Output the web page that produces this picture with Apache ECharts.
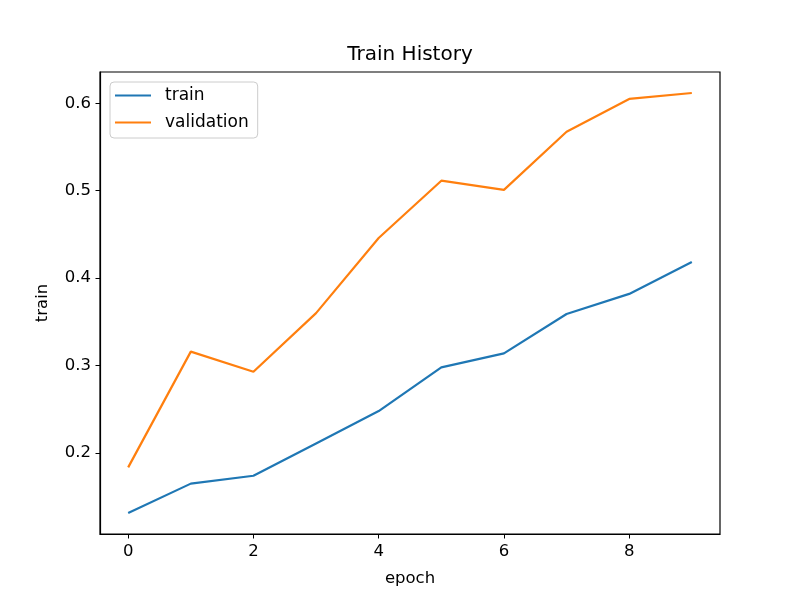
<!DOCTYPE html>
<html>
<head>
<meta charset="utf-8">
<script src="https://cdn.jsdelivr.net/npm/echarts@6/dist/echarts.min.js"></script>
<style>html,body{margin:0;padding:0;background:#fff}#c{width:800px;height:600px}</style>
</head>
<body>
<div id="c"></div>
<script>
const epochs = [0, 1, 2, 3, 4, 5, 6, 7, 8, 9];
const trainAcc = [0.1314, 0.165, 0.174, 0.211, 0.248, 0.298, 0.314, 0.359, 0.382, 0.4186];
const valAcc = [0.1836, 0.316, 0.293, 0.360, 0.446, 0.5115, 0.501, 0.5675, 0.605, 0.6118];
const xTicks = [0, 2, 4, 6, 8];
const yTicks = [0.2, 0.3, 0.4, 0.5, 0.6];

const chart = echarts.init(document.getElementById('c'), null, {renderer: 'canvas'});
const font = 'DejaVu Sans';
const ext = (arr) => {
  const lo = Math.min(...arr), hi = Math.max(...arr), m = (hi - lo) * 0.05;
  return [lo - m, hi + m];
};
const [yMin, yMax] = ext(trainAcc.concat(valAcc));
const [xMin, xMax] = ext(epochs);

chart.setOption({
  animation: false,
  backgroundColor: '#fff',
  title: {
    text: 'Train History', left: 410, top: 45, textAlign: 'center', padding: 0,
    textStyle: {fontFamily: font, fontSize: 20, fontWeight: 'normal', color: '#000'}
  },
  legend: {
    orient: 'vertical', left: 110, top: 82,
    padding: [5, 9, 7, 5],
    itemGap: 10, itemWidth: 36, itemHeight: 2,
    icon: 'rect',
    borderColor: '#cccccc', borderWidth: 1, borderRadius: 4,
    textStyle: {fontFamily: font, fontSize: 17, color: '#000', lineHeight: 17, padding: [0, 0, 0, 9]},
    data: ['train', 'validation']
  },
  grid: {left: 100, right: 80, top: 72, bottom: 66, show: true, borderColor: '#000', borderWidth: 1.2, backgroundColor: 'transparent'},
  xAxis: {
    type: 'value', min: xMin, max: xMax,
    name: 'epoch', nameLocation: 'middle', nameGap: 36,
    nameTextStyle: {fontFamily: font, fontSize: 16.5, color: '#000'},
    axisLine: {show: true, onZero: false, lineStyle: {color: '#000', width: 1.2}},
    axisTick: {show: true, length: 4.5, lineStyle: {color: '#000', width: 1}, customValues: xTicks},
    axisLabel: {fontFamily: font, fontSize: 16.5, color: '#000', margin: 9, customValues: xTicks},
    splitLine: {show: false}
  },
  yAxis: {
    type: 'value', min: yMin, max: yMax,
    name: 'train', nameLocation: 'middle', nameGap: 49,
    nameTextStyle: {fontFamily: font, fontSize: 16.5, color: '#000'},
    axisLine: {show: true, onZero: false, lineStyle: {color: '#000', width: 1.2}},
    axisTick: {show: true, length: 4.5, lineStyle: {color: '#000', width: 1}, customValues: yTicks},
    axisLabel: {fontFamily: font, fontSize: 16.5, color: '#000', margin: 9, customValues: yTicks,
      formatter: v => v.toFixed(1)},
    splitLine: {show: false}
  },
  series: [
    {name: 'train', type: 'line', data: epochs.map((e, i) => [e, trainAcc[i]]),
      symbol: 'none', color: '#1f77b4', lineStyle: {width: 2.2, color: '#1f77b4'}},
    {name: 'validation', type: 'line', data: epochs.map((e, i) => [e, valAcc[i]]),
      symbol: 'none', color: '#ff7f0e', lineStyle: {width: 2.2, color: '#ff7f0e'}}
  ]
});
</script>
</body>
</html>
